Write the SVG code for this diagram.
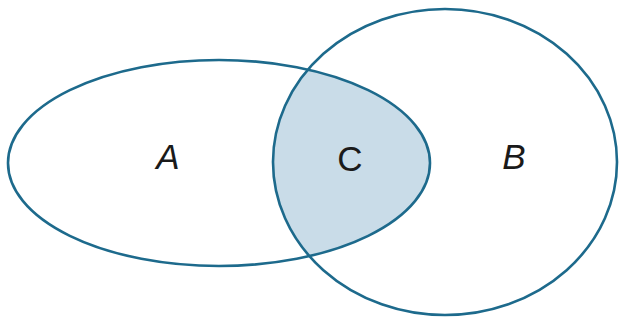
<svg xmlns="http://www.w3.org/2000/svg" width="619" height="320" viewBox="0 0 619 320">
<style>
.outline{fill:none;stroke:#1d6a8c;stroke-width:2.6}
.lbl{font-family:"Liberation Sans",Arial,sans-serif;font-size:35px;fill:#1a1a1a;text-anchor:middle}
.it{font-style:italic}
</style>
<defs>
<clipPath id="clipB"><ellipse cx="445" cy="162" rx="172" ry="153"/></clipPath>
</defs>
<rect width="619" height="320" fill="#ffffff"/>
<g id="C">
<ellipse cx="219" cy="163" rx="211" ry="103" fill="#c9dce8" clip-path="url(#clipB)"/>
<text class="lbl" x="350" y="171">C</text>
</g>
<g id="A">
<ellipse class="outline" cx="219" cy="163" rx="211" ry="103"/>
<text class="lbl it" x="168" y="169">A</text>
</g>
<g id="B">
<ellipse class="outline" cx="445" cy="162" rx="172" ry="153"/>
<text class="lbl it" x="514" y="169">B</text>
</g>
<g id="connectors"/>
</svg>
